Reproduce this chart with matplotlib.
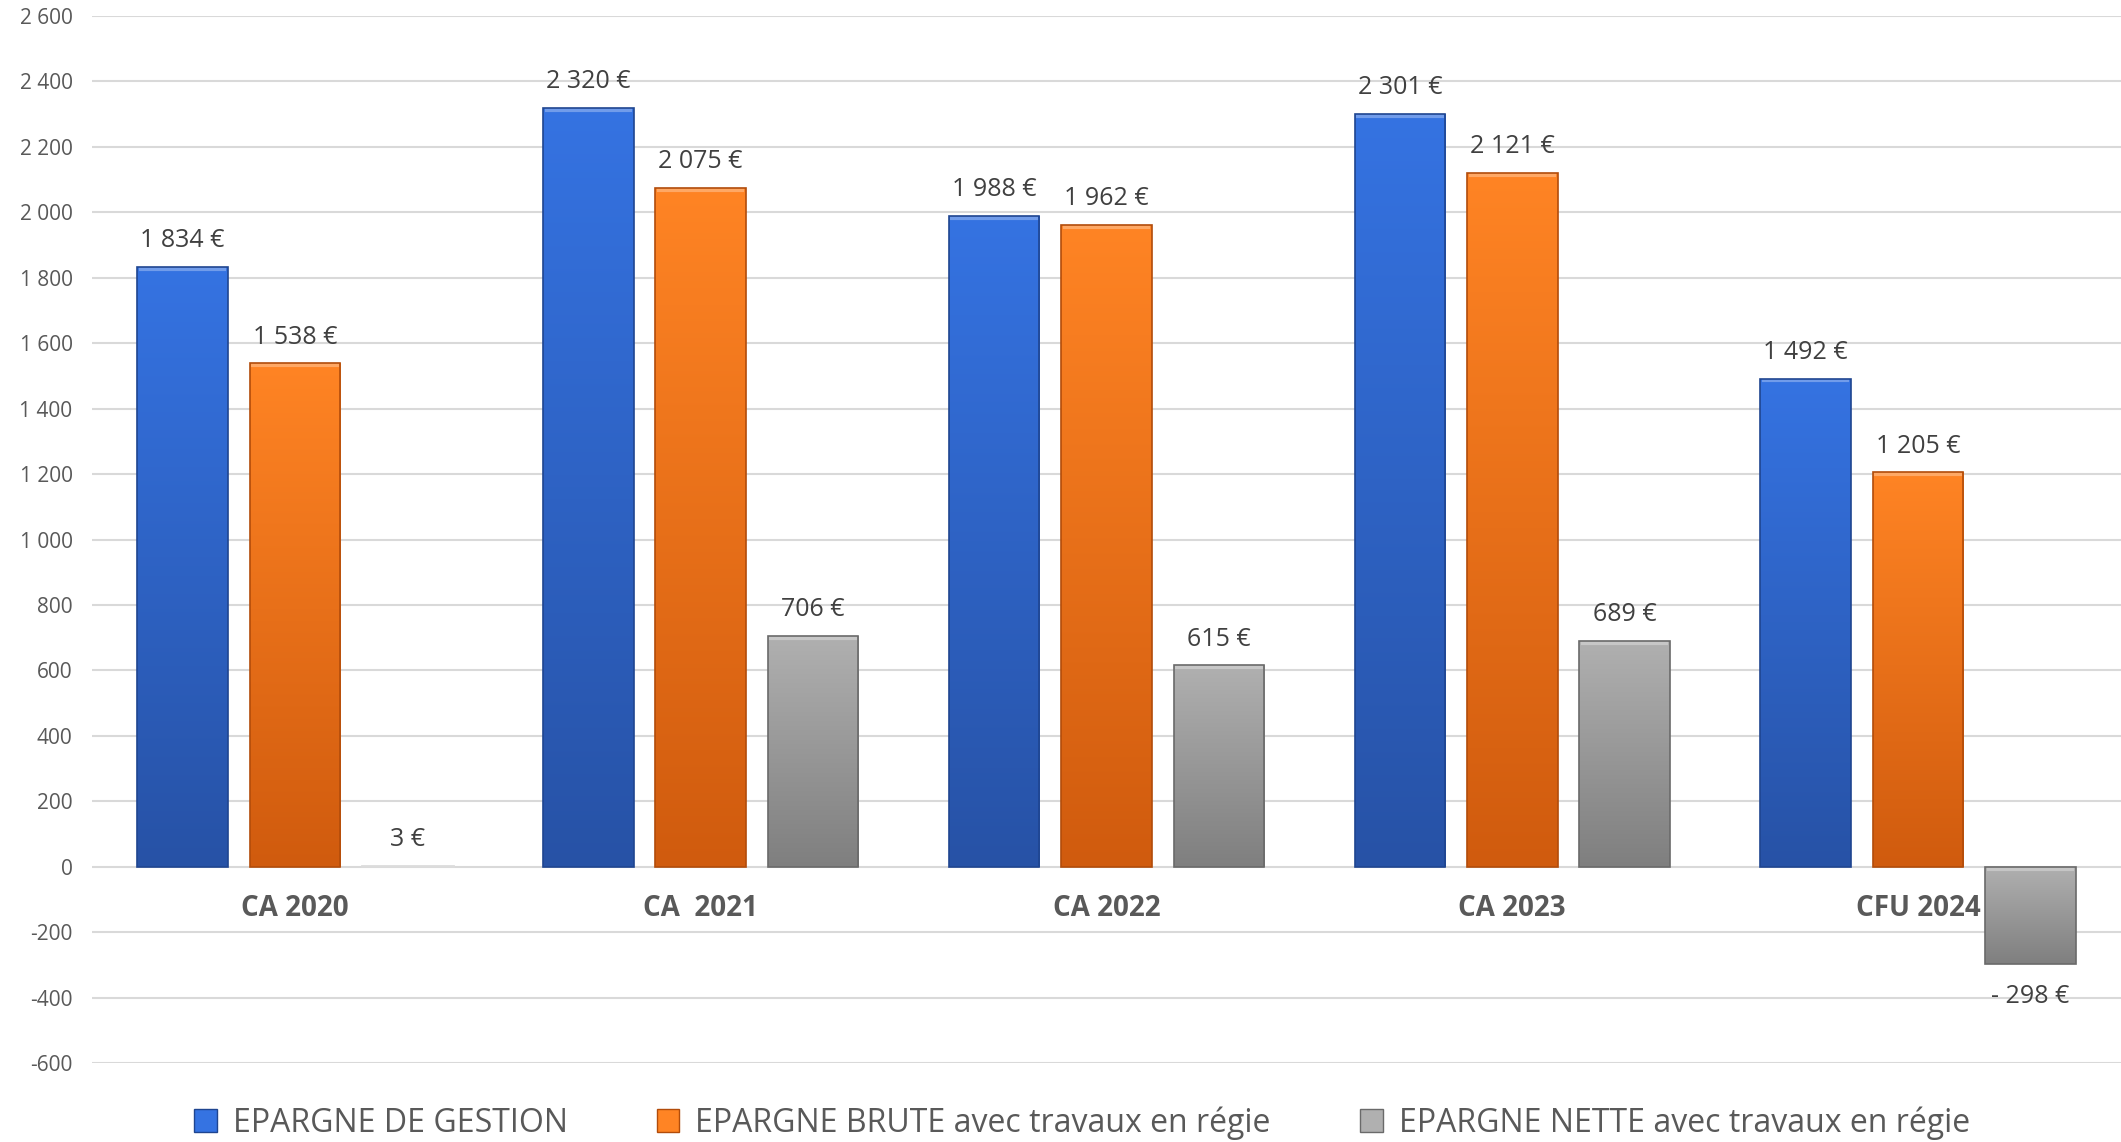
import numpy as np
import matplotlib.pyplot as plt
from matplotlib.patches import Patch
from matplotlib.colors import LinearSegmentedColormap

plt.rcParams['font.family'] = ['Open Sans', 'DejaVu Sans']

categories = ['CA 2020', 'CA  2021', 'CA 2022', 'CA 2023', 'CFU 2024']
series_names = ['EPARGNE DE GESTION', 'EPARGNE BRUTE avec travaux en régie',
                'EPARGNE NETTE avec travaux en régie']
gestion = [1834, 2320, 1988, 2301, 1492]
brute = [1538, 2075, 1962, 2121, 1205]
nette = [3, 706, 615, 689, -298]
yticks = list(range(-600, 2601, 200))

# (top colour, bottom colour, edge) for each series
grads = [('#3573e2', '#2752a6', '#1f4590'),
         ('#ff8424', '#d05b0e', '#b24c0a'),
         ('#b0b0b0', '#7f7f7f', '#6a6a6a')]

def fmt(v):
    s = '{:,}'.format(abs(v)).replace(',', ' ')
    return ('- ' if v < 0 else '') + s + ' €'

fig = plt.figure(figsize=(21.21, 11.42), dpi=100)
ax = fig.add_axes([92/2121, 79/1142, 1 - 92/2121, 1047/1142])

x = np.arange(len(categories))
width = 0.223
offsets = [-0.277, 0, 0.277]
grad = np.linspace(0, 1, 256).reshape(-1, 1)

for vals, off, (c1, c2, ec) in zip([gestion, brute, nette], offsets, grads):
    bars = ax.bar(x + off, vals, width, color=c2, linewidth=0, zorder=3)
    cmap = LinearSegmentedColormap.from_list('g', [c1, c2])
    for b, v in zip(bars, vals):
        x0, y0 = b.get_x(), b.get_y()
        w, h = b.get_width(), b.get_height()
        lo, hi = min(y0, y0 + h), max(y0, y0 + h)
        if abs(h) < 20:
            # near-zero bar: only a faint line
            ax.plot([x0, x0 + w], [hi, hi], color='#dcdcdc', lw=2, zorder=4)
        else:
            im = ax.imshow(grad, cmap=cmap, aspect='auto', origin='upper',
                           extent=(x0, x0 + w, lo, hi), zorder=3.5)
            im.set_clip_path(b)
            # small bevel highlight on top edge
            ax.plot([x0 + w*0.04, x0 + w*0.96], [hi - 6, hi - 6],
                    color='white', alpha=0.3, lw=3, zorder=4)
            ax.add_patch(plt.Rectangle((x0, lo), w, hi - lo, fill=False,
                                       edgecolor=ec, lw=1.2, zorder=4.5))
        if v >= 0:
            ax.annotate(fmt(v), (x0 + w/2, v), xytext=(0, 19), textcoords='offset points',
                        ha='center', va='center', fontsize=18, color='#404040')
        else:
            ax.annotate(fmt(v), (x0 + w/2, v), xytext=(0, -23), textcoords='offset points',
                        ha='center', va='center', fontsize=18, color='#404040')

for i, c in enumerate(categories):
    ax.annotate(c, (i, 0), xytext=(0, -30), textcoords='offset points',
                ha='center', va='center', fontsize=20, fontweight='bold', color='#595959')

ax.set_xlim(-0.5, len(categories) - 0.5)
ax.set_ylim(-600, 2600)
ax.set_yticks(yticks)
ax.set_yticklabels([('{:,}'.format(t).replace(',', ' ')) for t in yticks])
ax.set_xticks([])
ax.tick_params(axis='y', length=0, pad=14, labelsize=15, labelcolor='#595959')
ax.yaxis.grid(True, color='#d9d9d9', lw=1.5, zorder=0)
ax.set_axisbelow(True)
for s in ax.spines.values():
    s.set_visible(False)

handles = [Patch(facecolor=g[0], edgecolor=g[2]) for g in grads]
fig.legend(handles, series_names, loc='center', bbox_to_anchor=(1082/2121, 1 - 1123/1142),
           ncol=3, frameon=False, fontsize=23, handlelength=0.7, handleheight=0.7,
           handletextpad=0.5, columnspacing=2.8, labelcolor='#595959')

fig.savefig('out.png', dpi=100)
